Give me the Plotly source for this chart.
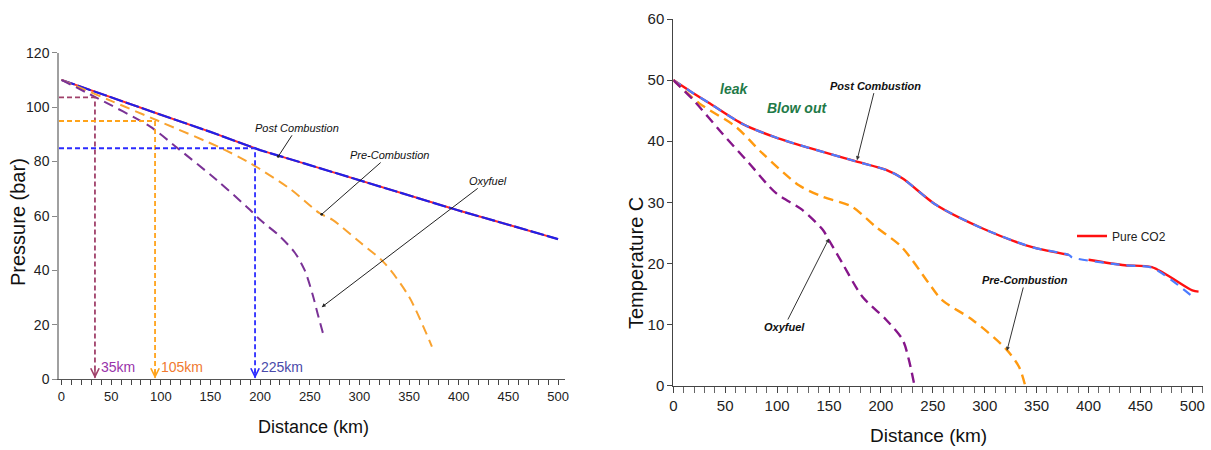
import plotly.graph_objects as go

# ---------------- Left chart: pressure vs distance ----------------
post_km = [0, 50, 100, 150, 200, 250, 300, 350, 400, 450, 500]
post_bar = [110, 103.5, 97.2, 90.9, 84.2, 78.7, 73.2, 67.7, 62.0, 56.8, 51.5]

pre_km = [0, 50, 99, 161, 190, 230, 260, 273, 300, 325, 350, 373]
pre_bar = [110, 102.3, 94.7, 84.9, 79.4, 70, 61, 58.6, 50.5, 42.8, 30.3, 12]

oxy_km = [0, 35, 89, 117, 156, 190, 200, 220, 235, 245, 253, 258, 264]
oxy_bar = [110, 103.5, 92.9, 84.9, 73.3, 62.2, 58.6, 52.5, 46.5, 40, 31, 24, 16]

guide_km = [33.7, 94.2, 194.9]
guide_bar = [103.6, 94.9, 84.9]
guide_labels = ["35km", "105km", "225km"]
guide_line_colors = ["#a0406a", "#ffa31a", "#2b2bff"]
guide_text_colors = ["#9933aa", "#f07a30", "#4a4aaa"]

left_x_ticks = [0, 50, 100, 150, 200, 250, 300, 350, 400, 450, 500]
left_y_ticks = [0, 20, 40, 60, 80, 100, 120]

# ---------------- Right chart: temperature vs distance ----------------
post_t_km = [0, 17, 35, 67, 99, 131, 176, 205, 221, 253, 297, 345, 381, 384, 435, 461, 500]
post_t_c = [50, 48.1, 46.2, 42.8, 40.6, 38.9, 36.7, 35.3, 33.9, 29.6, 25.8, 22.7, 21.4, 21.0, 19.7, 19.3, 14.6]

pure_km = [0, 17, 35, 67, 99, 131, 176, 205, 221, 253, 297, 345, 381, None, 400, 435, 461, 500, 506]
pure_c = [50, 48.1, 46.2, 42.8, 40.6, 38.9, 36.7, 35.3, 33.9, 29.6, 25.8, 22.7, 21.4, None, 20.6, 19.7, 19.4, 15.6, 15.4]

pre_t_km = [0, 25, 60, 86, 121, 144, 172, 195, 220, 246, 259, 288, 320, 333, 339]
pre_t_c = [50, 46.2, 42.4, 38.0, 32.8, 30.9, 29.3, 26.0, 22.7, 16.8, 14.0, 10.8, 6.1, 3.1, 0]

oxy_t_km = [0, 19, 47, 73, 99, 124, 144, 150, 163, 182, 205, 221, 227, 232]
oxy_t_c = [50, 46.8, 41.3, 36.4, 31.5, 28.8, 25.5, 23.8, 20.0, 14.6, 10.8, 7.5, 4.2, 0.3]

right_x_ticks = [0, 50, 100, 150, 200, 250, 300, 350, 400, 450, 500]
right_y_ticks = [0, 10, 20, 30, 40, 50, 60]

W, H = 1211, 450
ARIAL = "Liberation Sans, Arial, sans-serif"

PURPLE_L = "#7a3296"
ORANGE = "#f9a330"
PURPLE_R = "#86168a"

fig = go.Figure()

# left curves
fig.add_trace(go.Scatter(x=post_km, y=post_bar, mode="lines", line=dict(color="#ff2a2a", width=2),
                         xaxis="x", yaxis="y", showlegend=False))
fig.add_trace(go.Scatter(x=post_km, y=post_bar, mode="lines", line=dict(color="#2020e8", width=2.2, dash="14px,3px"),
                         xaxis="x", yaxis="y", showlegend=False))
fig.add_trace(go.Scatter(x=pre_km, y=pre_bar, mode="lines", line=dict(color=ORANGE, width=2, dash="10px,6px", shape="spline", smoothing=0.8),
                         xaxis="x", yaxis="y", showlegend=False))
fig.add_trace(go.Scatter(x=oxy_km, y=oxy_bar, mode="lines", line=dict(color=PURPLE_L, width=2, dash="10px,6px", shape="spline", smoothing=0.8),
                         xaxis="x", yaxis="y", showlegend=False))

# guide lines (horizontal from axis, then vertical down)
x_left_min = -2.5
for gk, gb, lc in zip(guide_km, guide_bar, guide_line_colors):
    fig.add_trace(go.Scatter(x=[x_left_min, gk, gk], y=[gb, gb, 0.6], mode="lines",
                             line=dict(color=lc, width=1.8, dash="5px,3px"),
                             xaxis="x", yaxis="y", showlegend=False))

annotations = []
for gk, lab, lc, tc in zip(guide_km, guide_labels, guide_line_colors, guide_text_colors):
    annotations.append(dict(x=gk, y=0.3, ax=gk, ay=4, xref="x", yref="y", axref="x", ayref="y",
                            text="", showarrow=True, arrowhead=5, arrowsize=1.1, arrowwidth=1.5, arrowcolor=lc))
    annotations.append(dict(x=gk, y=4.5, xref="x", yref="y", text=lab, showarrow=False,
                            xanchor="left", xshift=4, font=dict(family=ARIAL, size=14, color=tc)))

# left labels with arrows
lab_font = dict(family=ARIAL, size=11, color="#111")
annotations += [
    dict(x=218.3, y=81.9, ax=237, ay=92.4, xref="x", yref="y", axref="x", ayref="y",
         text="<i>Post Combustion</i>", showarrow=True, arrowhead=6, arrowsize=0.7, arrowwidth=1,
         arrowcolor="#222", font=lab_font),
    dict(x=262, y=60.6, ax=330, ay=82.4, xref="x", yref="y", axref="x", ayref="y",
         text="<i>Pre-Combustion</i>", showarrow=True, arrowhead=6, arrowsize=0.7, arrowwidth=1,
         arrowcolor="#222", font=lab_font),
    dict(x=262, y=26.5, ax=429, ay=72.9, xref="x", yref="y", axref="x", ayref="y",
         text="<i>Oxyfuel</i>", showarrow=True, arrowhead=2, arrowsize=0.8, arrowwidth=1,
         arrowcolor="#222", font=lab_font),
]

# right curves
fig.add_trace(go.Scatter(x=pure_km, y=pure_c, mode="lines", name="Pure CO2",
                         line=dict(color="#ff1010", width=2.4, shape="spline", smoothing=0.8),
                         xaxis="x2", yaxis="y2", showlegend=True))
fig.add_trace(go.Scatter(x=post_t_km, y=post_t_c, mode="lines", line=dict(color="#4d7cff", width=2.2, dash="9px,7px", shape="spline", smoothing=0.8),
                         xaxis="x2", yaxis="y2", showlegend=False))
fig.add_trace(go.Scatter(x=pre_t_km, y=pre_t_c, mode="lines", line=dict(color="#ff9a10", width=2.4, dash="10px,6px", shape="spline", smoothing=0.8),
                         xaxis="x2", yaxis="y2", showlegend=False))
fig.add_trace(go.Scatter(x=oxy_t_km, y=oxy_t_c, mode="lines", line=dict(color=PURPLE_R, width=2.4, dash="10px,6px", shape="spline", smoothing=0.8),
                         xaxis="x2", yaxis="y2", showlegend=False))

rlab_font = dict(family=ARIAL, size=11, color="#111")
green_font = dict(family=ARIAL, size=14, color="#1f7a48")
annotations += [
    dict(x=58.7, y=48.6, xref="x2", yref="y2", text="<b><i>leak</i></b>", showarrow=False, font=green_font),
    dict(x=119, y=45.5, xref="x2", yref="y2", text="<b><i>Blow out</i></b>", showarrow=False, font=green_font),
    dict(x=177, y=36.9, ax=195, ay=49.1, xref="x2", yref="y2", axref="x2", ayref="y2",
         text="<b><i>Post Combustion</i></b>", showarrow=True, arrowhead=2, arrowsize=0.8, arrowwidth=1,
         arrowcolor="#333", font=rlab_font),
    dict(x=150, y=24.1, ax=106.7, ay=9.6, xref="x2", yref="y2", axref="x2", ayref="y2",
         text="<b><i>Oxyfuel</i></b>", showarrow=True, arrowhead=2, arrowsize=0.8, arrowwidth=1,
         arrowcolor="#333", font=rlab_font),
    dict(x=321.4, y=5.7, ax=339, ay=17.3, xref="x2", yref="y2", axref="x2", ayref="y2",
         text="<b><i>Pre-Combustion</i></b>", showarrow=True, arrowhead=2, arrowsize=0.8, arrowwidth=1,
         arrowcolor="#333", font=rlab_font),
]

# axis titles
title_common = dict(xref="paper", yref="paper", showarrow=False, xanchor="center", yanchor="middle")
annotations += [
    dict(x=313 / W, y=1 - 427 / H, text="Distance (km)",
         font=dict(family=ARIAL, size=18, color="#111"), **title_common),
    dict(x=18 / W, y=1 - 222 / H, text="Pressure (bar)", textangle=-90,
         font=dict(family=ARIAL, size=20, color="#111"), **title_common),
    dict(x=928 / W, y=1 - 435 / H, text="Distance (km)",
         font=dict(family=ARIAL, size=19, color="#111"), **title_common),
    dict(x=636 / W, y=1 - 263 / H, text="Temperature C", textangle=-90,
         font=dict(family=ARIAL, size=20, color="#111"), **title_common),
]

fig.update_layout(
    width=W, height=H, autosize=False,
    margin=dict(l=0, r=0, t=0, b=0, autoexpand=False),
    paper_bgcolor="white", plot_bgcolor="white",
    annotations=annotations,
    legend=dict(x=1072 / W, y=1 - 236 / H, xanchor="left", yanchor="middle",
                bgcolor="rgba(0,0,0,0)", font=dict(family=ARIAL, size=12, color="#222"),
                itemwidth=30, tracegroupgap=0),
    xaxis=dict(domain=[59 / W, 565 / W], range=[x_left_min, 507], tickvals=left_x_ticks,
               ticks="outside", ticklen=5, tickcolor="#444", showline=True, linecolor="#555",
               linewidth=1, showgrid=False, zeroline=False, automargin=False,
               minor=dict(dtick=10, tick0=0, ticks="outside", ticklen=5, tickcolor="#444", showgrid=False),
               tickfont=dict(family=ARIAL, size=13, color="#222"), anchor="y"),
    yaxis=dict(domain=[1 - 379.3 / H, 1 - 52.7 / H], range=[0, 120], tickvals=left_y_ticks,
               ticks="outside", ticklen=5, tickcolor="#888", showline=True, linecolor="#a0a0a0",
               linewidth=1.5, showgrid=False, zeroline=False, automargin=False,
               tickfont=dict(family=ARIAL, size=14, color="#222"), anchor="x"),
    xaxis2=dict(domain=[673.3 / W, 1202.7 / W], range=[0, 510], tickvals=right_x_ticks,
                ticks="outside", ticklen=6, tickcolor="#444", showline=True, linecolor="#444",
                linewidth=1, showgrid=False, zeroline=False, automargin=False,
                minor=dict(dtick=10, tick0=0, ticks="outside", ticklen=6, tickcolor="#666", showgrid=False),
                tickfont=dict(family=ARIAL, size=15, color="#222"), anchor="y2"),
    yaxis2=dict(domain=[1 - 385.7 / H, 1 - 19 / H], range=[0, 60], tickvals=right_y_ticks,
                ticks="outside", ticklen=5, tickcolor="#444", showline=True, linecolor="#444",
                linewidth=1, showgrid=False, zeroline=False, automargin=False,
                tickfont=dict(family=ARIAL, size=15, color="#222"), anchor="x2"),
)

fig.write_html("out.html", config={"displayModeBar": False},
               post_script="document.body.style.margin='0';document.body.style.overflow='hidden';")
